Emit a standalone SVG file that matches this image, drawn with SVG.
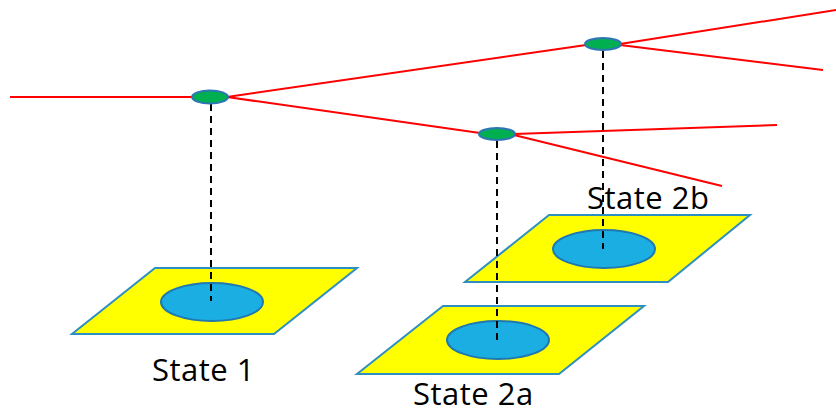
<svg xmlns="http://www.w3.org/2000/svg" width="836" height="413" viewBox="0 0 836 413">
<style>
.plane{fill:#FFFF00;stroke:#2E8FC0;stroke-width:2}
.blob{fill:#1AAEE3;stroke:#1F78B0;stroke-width:2}
.node{fill:#00B050;stroke:#2E75B6;stroke-width:2}
.red{stroke:#FF0000;stroke-width:2;fill:none}
.dash{stroke:#000;stroke-width:2;stroke-dasharray:7,5;fill:none}
.lbl{font-family:"Open Sans","Noto Sans",sans-serif;font-size:31px;fill:#000;letter-spacing:0.5px}
</style>
<rect width="836" height="413" fill="#fff"/>
<g id="state1">
<polygon class="plane" points="155,268 357,268 274,334 72,334"/>
<ellipse class="blob" cx="212" cy="302" rx="51" ry="19"/>
<text class="lbl" x="152" y="381">State 1</text>
</g>
<g id="state2b">
<polygon class="plane" points="549,215 750,215 668,282 465,282"/>
<ellipse class="blob" cx="604" cy="249" rx="51" ry="19"/>
<text class="lbl" x="587" y="209">State 2b</text>
</g>
<g id="state2a">
<polygon class="plane" points="443,306 644,306 559,374 357,374"/>
<ellipse class="blob" cx="498" cy="340" rx="51" ry="19"/>
<text class="lbl" x="413" y="405">State 2a</text>
</g>
<g id="connectors">
<line class="red" x1="10" y1="97" x2="193" y2="97"/>
<line class="red" x1="227" y1="97" x2="586" y2="45"/>
<line class="red" x1="227" y1="97" x2="480" y2="133"/>
<line class="red" x1="620" y1="44" x2="836" y2="10"/>
<line class="red" x1="620" y1="45" x2="823" y2="70"/>
<line class="red" x1="514" y1="134" x2="777" y2="125"/>
<line class="red" x1="514" y1="135" x2="722" y2="186"/>
<line class="dash" x1="211" y1="104" x2="211" y2="301"/>
<line class="dash" x1="497" y1="141" x2="497" y2="340"/>
<line class="dash" x1="603" y1="51" x2="603" y2="249"/>
</g>
<g id="n1"><ellipse class="node" cx="210" cy="97" rx="18" ry="6.5"/></g>
<g id="n2"><ellipse class="node" cx="497" cy="134" rx="18" ry="6"/></g>
<g id="n3"><ellipse class="node" cx="603" cy="44" rx="18" ry="6"/></g>
</svg>
